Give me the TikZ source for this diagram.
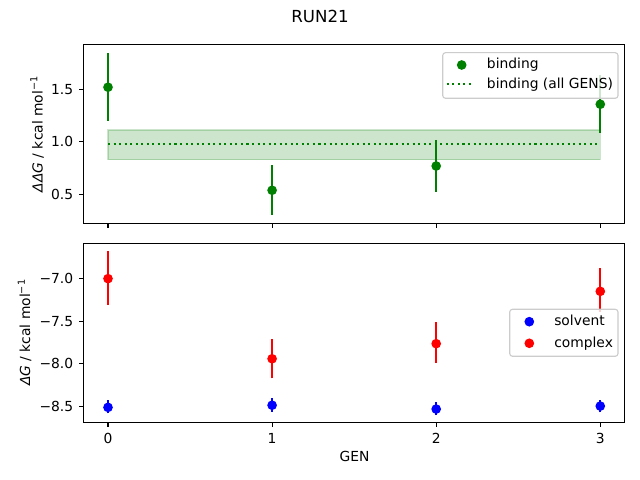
\documentclass[tikz,border=0pt]{standalone}
\usepackage{fontspec}
\setmainfont{DejaVu Sans}
\definecolor{mplgreen}{RGB}{0,128,0}
\definecolor{mplred}{RGB}{255,0,0}
\definecolor{mplblue}{RGB}{0,0,255}
\definecolor{legendedge}{RGB}{204,204,204}

\begin{document}
\begin{tikzpicture}[x=0.01in, y=0.01in, font=\fontsize{10}{12}\selectfont,
		spine/.style={line width=0.8pt},
		errbar/.style={line width=1.5pt},
		legendbox/.style={fill=white, fill opacity=0.8, draw=legendedge, line width=0.8pt, rounded corners=2pt}]
	\useasboundingbox[fill=white] (0,0) rectangle (640,480);
	\node[name=title, anchor=base, font=\fontsize{12}{14}\selectfont] at (320,457.3) {RUN21};
	\node[name=ylabtop, anchor=base, rotate=90] at (42.5,346) {{\itshape ΔΔG} / kcal mol\textsuperscript{−1}};
	\node[name=ylabbot, anchor=base, rotate=90] at (30,147.5) {{\itshape ΔG} / kcal mol\textsuperscript{−1}};
	\node[name=xlab, anchor=base] at (354.5,18.3) {GEN};
	% binding
	\begin{scope}[shift={(108,233.3)}, x=1.64in, y=1.05in]
		\filldraw[fill=mplgreen, draw=mplgreen, fill opacity=0.2, draw opacity=0.2, line width=1pt] (0,0.829) rectangle (3,1.111);
		\draw[mplgreen, line width=1.5pt, dash pattern=on 1.5pt off 2.5pt] (0,0.978) -- (3,0.978);
		\foreach \g/\v/\lo/\hi in {0/1.518/1.200/1.845, 1/0.537/0.300/0.778, 2/0.768/0.524/1.016, 3/1.356/1.086/1.635}{
			\draw[errbar, mplgreen] (\g,\lo) -- (\g,\hi);
			\fill[mplgreen] (\g,\v) circle[radius=3.5pt];
		}
		\draw[spine] (-0.15,0.224) rectangle (3.15,1.921);
		\foreach \g in {0,...,3}
			\draw[spine] (\g,0.224) -- ++(0,-3.5pt);
		\foreach \v in {0.5,1.0,1.5}
			\draw[spine] (-0.15,\v) -- ++(-3.5pt,0) node[anchor=east, inner sep=0pt, xshift=-3.5pt] {\v};
	\end{scope}
	% legend top
	\draw[legendbox] (442.7,381.7) rectangle (618,427.3);
	\fill[mplgreen] (461.7,415) circle[radius=3.5pt];
	\draw[mplgreen, line width=1.5pt, dash pattern=on 1.5pt off 2.5pt] (446.7,396) -- (474.3,396);
	\node[name=legbind, anchor=base west, inner sep=0pt] at (486.7,411) {binding};
	\node[name=legall, anchor=base west, inner sep=0pt] at (486.7,391.7) {binding (all GENS)};
	% solvent and complex
	\begin{scope}[shift={(108,798.1)}, x=1.64in, y=0.852in]
		\foreach \g/\v/\lo/\hi in {0/-8.51/-8.58/-8.42, 1/-8.485/-8.56/-8.40, 2/-8.53/-8.60/-8.45, 3/-8.495/-8.57/-8.42}{
			\draw[errbar, mplblue] (\g,\lo) -- (\g,\hi);
			\fill[mplblue] (\g,\v) circle[radius=3.5pt];
		}
		\foreach \g/\v/\lo/\hi in {0/-7.0/-7.305/-6.68, 1/-7.94/-8.17/-7.71, 2/-7.763/-7.99/-7.51, 3/-7.149/-7.39/-6.88}{
			\draw[errbar, mplred] (\g,\lo) -- (\g,\hi);
			\fill[mplred] (\g,\v) circle[radius=3.5pt];
		}
		\draw[spine] (-0.15,-8.687) rectangle (3.15,-6.586);
		\foreach \g in {0,...,3}
			\draw[spine] (\g,-8.687) -- ++(0,-3.5pt) node[anchor=base, inner sep=0pt, yshift=-12pt] {\g};
		\foreach \v/\t in {-7.0/−7.0, -7.5/−7.5, -8.0/−8.0, -8.5/−8.5}
			\draw[spine] (-0.15,\v) -- ++(-3.5pt,0) node[anchor=east, inner sep=0pt, xshift=-3.5pt] {\t};
	\end{scope}
	% legend bottom
	\draw[legendbox] (509.7,123.7) rectangle (618,170.7);
	\fill[mplblue] (529.3,158.3) circle[radius=3.5pt];
	\fill[mplred] (529.3,136.7) circle[radius=3.5pt];
	\node[name=legsolv, anchor=base west, inner sep=0pt] at (554,154) {solvent};
	\node[name=legcplx, anchor=base west, inner sep=0pt] at (554,132.5) {complex};
\end{tikzpicture}
\end{document}
